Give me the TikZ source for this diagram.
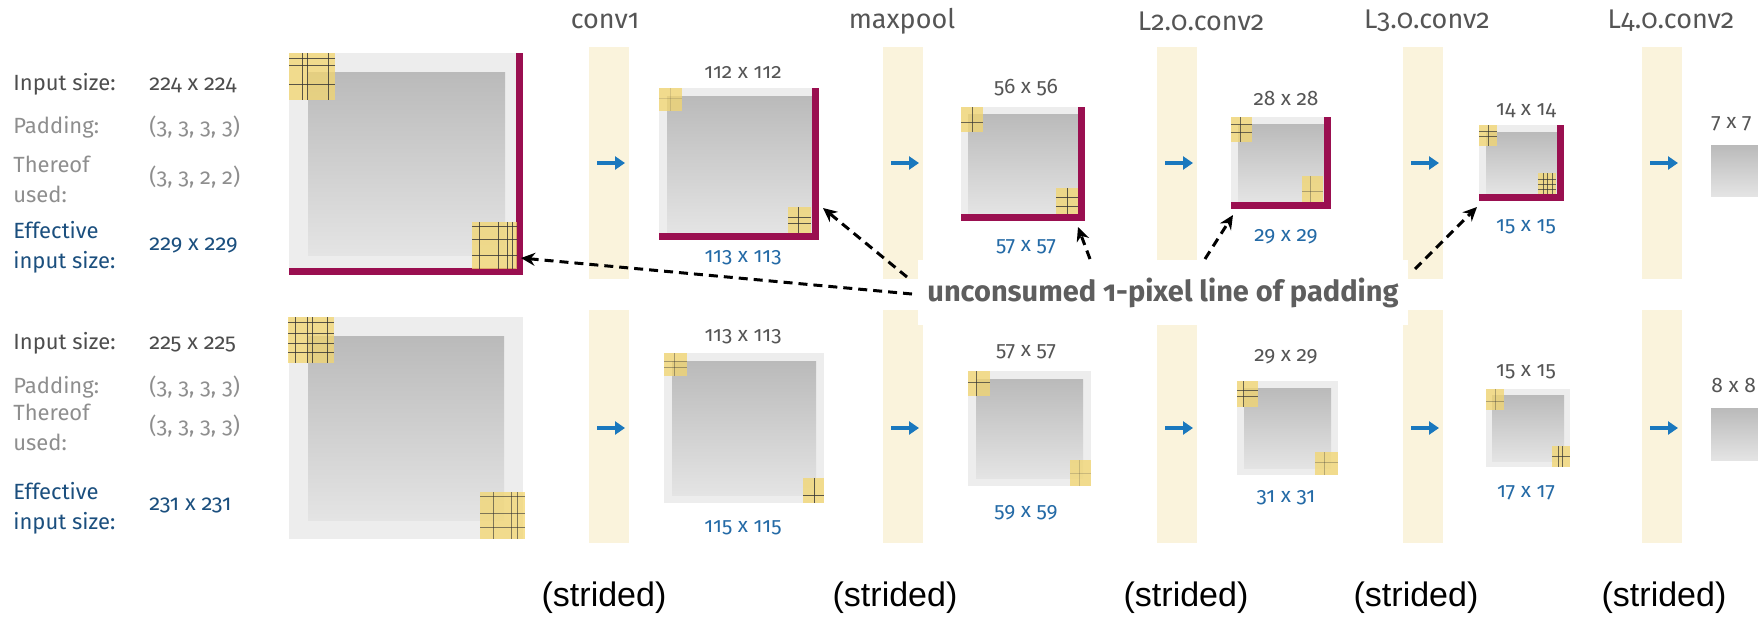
\documentclass[tikz,border=0pt]{standalone}
\usepackage{fontspec}
\setmainfont{Fira Sans}[RawFeature={+onum;+pnum}]
\newfontfamily\arialfont{Liberation Sans}
\usetikzlibrary{arrows.meta, positioning, calc}
\usepackage{xcolor}
\definecolor{titlegrey}{HTML}{555555}
\definecolor{labgrey}{HTML}{4D4D4D}
\definecolor{padtext}{HTML}{8E8E8E}
\definecolor{effblue}{HTML}{1B4F7E}
\definecolor{sizeblue}{HTML}{246AA6}
\definecolor{notegrey}{HTML}{5E5E5E}
\definecolor{edgered}{HTML}{9A0F50}
\definecolor{bandcol}{HTML}{FAF3DC}
\definecolor{padgrey}{HTML}{EDEDED}
\definecolor{coretop}{HTML}{BABABA}
\definecolor{corebot}{HTML}{E4E4E4}
\definecolor{flowblue}{HTML}{1A78BE}
\definecolor{patchyel}{RGB}{243,214,110}

% yellow kernel patch with grid lines: x1 y1 x2 y2 {v-fractions} {h-fractions} opacity
\newcommand{\patch}[7]{%
  \fill[patch] (#1,#2) rectangle (#3,#4);
  \foreach \f in {#5} \draw[gridln, draw opacity=#7] ({#1+\f*(#3-#1)},#2) -- ({#1+\f*(#3-#1)},#4);
  \foreach \f in {#6} \draw[gridln, draw opacity=#7] (#1,{#2+\f*(#4-#2)}) -- (#3,{#2+\f*(#4-#2)});
}
% map whose right/bottom padding line is left over
\newcommand{\usedmap}[5]{%
  \fill[pad] (#1,#2) rectangle (#3,#4);
  \path[core] ({#1+#5},{#2+#5}) rectangle (#3,#4);
  \fill[edge] (#3,#2) rectangle ({#3+7},{#4+7});
  \fill[edge] (#1,#4) rectangle ({#3+7},{#4+7});
}
% map with padding on all sides
\newcommand{\fullmap}[5]{%
  \fill[pad] (#1,#2) rectangle (#3,#4);
  \path[core] ({#1+#5},{#2+#5}) rectangle ({#3-#5},{#4-#5});
}

\begin{document}
\begin{tikzpicture}[x=0.5pt, y=-0.5pt,
    every node/.style={inner sep=0pt},
    ttl/.style={font=\fontsize{13.5}{16}\selectfont, text=titlegrey},
    lab/.style={anchor=west, align=left, font=\fontsize{11}{15}\selectfont},
    szin/.style={font=\fontsize{10.5}{12}\selectfont, text=titlegrey},
    szout/.style={font=\fontsize{10.5}{12}\selectfont, text=sizeblue},
    strd/.style={font=\arialfont\fontsize{17}{20}\selectfont},
    band/.style={fill=bandcol},
    pad/.style={fill=padgrey},
    core/.style={top color=coretop, bottom color=corebot},
    edge/.style={fill=edgered},
    patch/.style={fill=patchyel, fill opacity=0.75},
    gridln/.style={draw=black!80, line width=0.5pt},
    flow/.style={-{Triangle[length=5pt,width=6.5pt]}, line width=1.8pt, draw=flowblue},
    ptr/.style={-{Stealth[length=7pt,width=6.5pt]}, line width=1.5pt, dash pattern=on 4.5pt off 3pt}
]
\useasboundingbox (0,0) rectangle (1758,618);

% layer columns
\foreach \bx in {589,883,1157,1403,1642} {
  \fill[band] (\bx,47) rectangle ++(40,232);
  \fill[band] (\bx,310) rectangle ++(40,233);
  \draw[flow] ({\bx+8},163) -- ++(28,0);
  \draw[flow] ({\bx+8},428) -- ++(28,0);
}

\node[ttl] (tconv) at (605,21) {conv1};
\node[ttl] (tpool) at (902,21) {maxpool};
\node[ttl] (tltwo) at (1201,21) {L2.0.conv2};
\node[ttl] (tlthree) at (1427,21) {L3.0.conv2};
\node[ttl] (tlfour) at (1671,21) {L4.0.conv2};

% left description, 224 input
\node[lab, text=labgrey] (insA) at (13,84) {Input size:};
\node[lab, text=labgrey] (insAv) at (149,85) {224 x 224};
\node[lab, text=padtext] (padA) at (13,127) {Padding:};
\node[lab, text=padtext] (padAv) at (149,127) {(3, 3, 3, 3)};
\node[lab, text=padtext] (useA) at (13,179) {Thereof\\used:};
\node[lab, text=padtext] (useAv) at (149,177) {(3, 3, 2, 2)};
\node[lab, text=effblue] (effA) at (13,247) {Effective\\input size:};
\node[lab, text=effblue] (effAv) at (149,245) {229 x 229};

% left description, 225 input
\node[lab, text=labgrey] (insB) at (13,343) {Input size:};
\node[lab, text=labgrey] (insBv) at (149,344) {225 x 225};
\node[lab, text=padtext] (padB) at (13,387) {Padding:};
\node[lab, text=padtext] (padBv) at (149,387) {(3, 3, 3, 3)};
\node[lab, text=padtext] (useB) at (13,427) {Thereof\\used:};
\node[lab, text=padtext] (useBv) at (149,426) {(3, 3, 3, 3)};
\node[lab, text=effblue] (effB) at (13,508) {Effective\\input size:};
\node[lab, text=effblue] (effBv) at (149,505) {231 x 231};

\node[fill=white, minimum width=245pt, minimum height=32.5pt, text=notegrey,
      font=\bfseries\fontsize{14.5}{17}\selectfont] (note) at (1163,292.5)
      {unconsumed 1-pixel line of padding};

% top row (224)
\fill[pad] (289,53) rectangle (516,268);
\path[core] (308,72) rectangle (505,255);
\fill[edge] (516,53) rectangle (523,275);
\fill[edge] (289,268) rectangle (523,275);
\usedmap{659}{88}{812}{233}{8}
\usedmap{961}{107}{1078}{214}{7}
\usedmap{1231}{117}{1324}{202}{7}
\usedmap{1479}{125}{1557}{194}{7}
\path[core] (1711,145) rectangle (1758,196);

\patch{289}{53}{335}{100}{0.3,0.41,0.85}{0.11,0.26,0.68}{0.8}
\patch{472}{222}{517}{269}{0.16,0.58,0.78,0.89}{0.1,0.38,0.72}{0.8}
\patch{659}{88}{682}{111}{0.5}{0.45}{0.15}
\patch{788}{207}{811}{233}{0.45}{0.4,0.62}{0.8}
\patch{961}{107}{983}{132}{0.5}{0.6}{0.7}
\patch{1056}{188}{1078}{214}{0.5}{0.35,0.7}{0.8}
\patch{1231}{117}{1252}{142}{0.45}{0.3,0.6}{0.7}
\patch{1302}{176}{1323}{202}{0.4}{0.6}{0.35}
\patch{1479}{125}{1497}{146}{0.5}{0.3,0.55}{0.7}
\patch{1538}{173}{1556}{194}{0.3,0.55,0.8}{0.3,0.55,0.8}{0.7}

\node[szin] (inconv) at (743,72) {112 x 112};
\node[szout] (outconv) at (743,258) {113 x 113};
\node[szin] (inpool) at (1026,88) {56 x 56};
\node[szout] (outpool) at (1026,247) {57 x 57};
\node[szin] (inltwo) at (1286,98) {28 x 28};
\node[szout] (outltwo) at (1286,237) {29 x 29};
\node[szin] (inlthree) at (1526,111) {14 x 14};
\node[szout] (outlthree) at (1526,227) {15 x 15};
\node[szin, anchor=west] (inlfour) at (1711,124) {7 x 7};

% bottom row (225)
\fullmap{289}{317}{523}{539}{19}
\fullmap{664}{353}{824}{503}{8}
\fullmap{968}{371}{1091}{486}{8}
\fullmap{1237}{381}{1338}{475}{7}
\fullmap{1486}{389}{1570}{467}{6}
\path[core] (1711,408) rectangle (1758,460);

\patch{288}{317}{334}{363}{0.17,0.43,0.54,0.85}{0.13,0.35,0.57,0.78}{0.8}
\patch{480}{492}{525}{539}{0.29,0.71,0.84}{0.1,0.45,0.75}{0.6}
\patch{664}{353}{687}{376}{0.45}{0.35,0.65}{0.4}
\patch{803}{478}{824}{503}{0.55}{0.7}{0.8}
\patch{968}{371}{990}{396}{0.4}{0.45}{0.7}
\patch{1070}{460}{1091}{486}{0.45}{0.5}{0.2}
\patch{1237}{381}{1258}{407}{0.3}{0.35,0.6}{0.7}
\patch{1315}{452}{1338}{475}{0.4}{0.45}{0.3}
\patch{1486}{389}{1504}{410}{0.5}{0.6}{0.35}
\patch{1552}{446}{1570}{467}{0.35,0.6}{0.5}{0.7}

\node[szin] (inconvB) at (743,337) {113 x 113};
\node[szout] (outconvB) at (743,528) {115 x 115};
\node[szin] (inpoolB) at (1026,352) {57 x 57};
\node[szout] (outpoolB) at (1026,513) {59 x 59};
\node[szin] (inltwoB) at (1286,357) {29 x 29};
\node[szout] (outltwoB) at (1286,498) {31 x 31};
\node[szin] (inlthreeB) at (1526,372) {15 x 15};
\node[szout] (outlthreeB) at (1526,493) {17 x 17};
\node[szin, anchor=west] (inlfourB) at (1711,385) {8 x 8};

\node[strd] (sconv) at (604,598) {(strided)};
\node[strd] (spool) at (895,598) {(strided)};
\node[strd] (sltwo) at (1186,598) {(strided)};
\node[strd] (slthree) at (1416,598) {(strided)};
\node[strd] (slfour) at (1664,598) {(strided)};

% pointers to the leftover padding lines
\coordinate (nin) at (912,294);
\coordinate (nconv) at (907,277);
\coordinate (npool) at (1090,259);
\coordinate (nltwo) at (1205,259);
\coordinate (nlthree) at (1415,269);
\coordinate (lin) at (521,258);
\coordinate (lconv) at (823,208);
\coordinate (lpool) at (1078,227);
\coordinate (lltwo) at (1233,215);
\coordinate (llthree) at (1477,207);
\draw[ptr] (nin) -- (lin);
\draw[ptr] (nconv) -- (lconv);
\draw[ptr] (npool) -- (lpool);
\draw[ptr] (nltwo) -- (lltwo);
\draw[ptr] (nlthree) -- (llthree);
\end{tikzpicture}
\end{document}
